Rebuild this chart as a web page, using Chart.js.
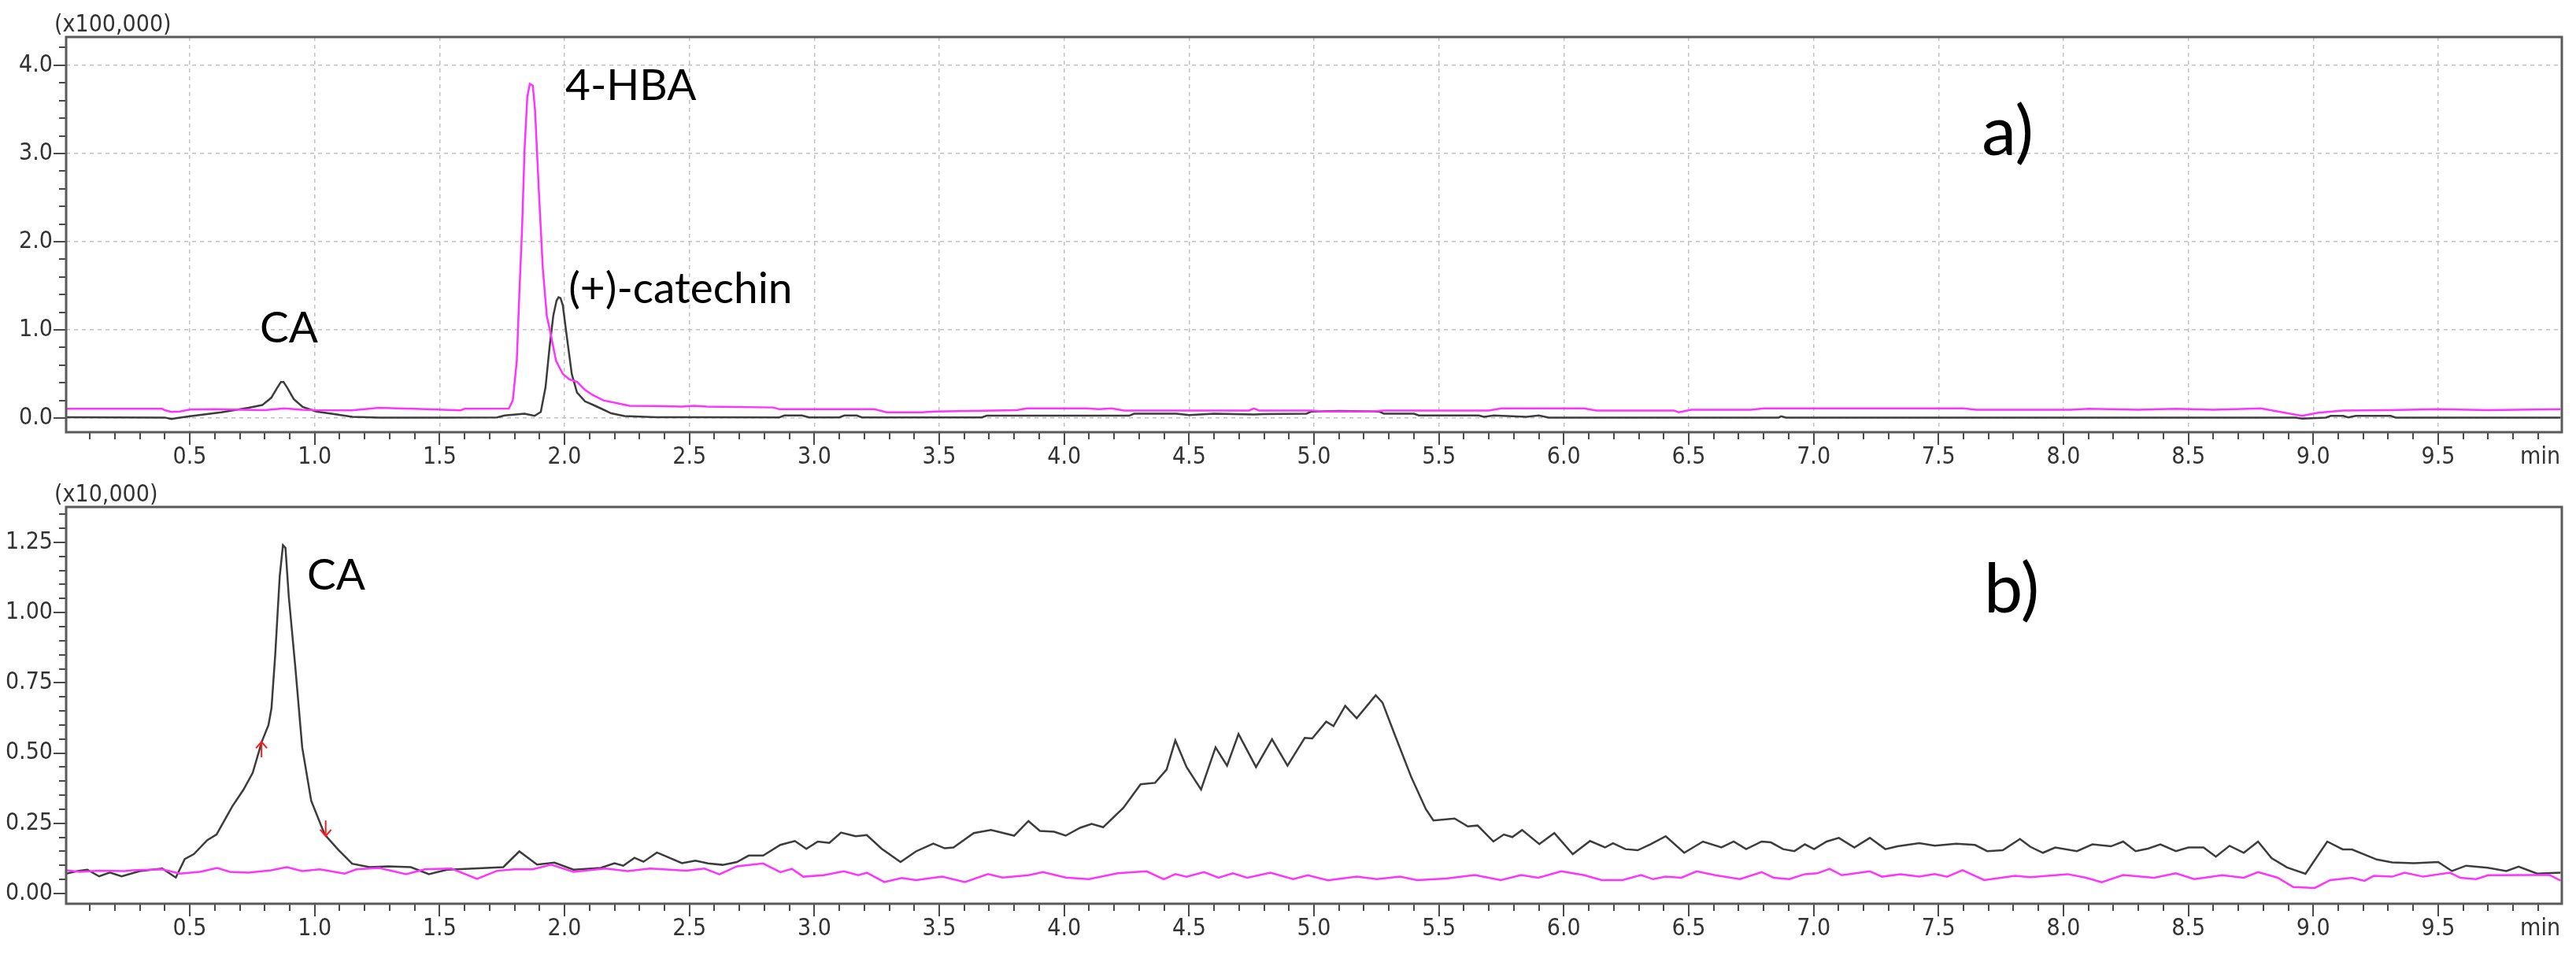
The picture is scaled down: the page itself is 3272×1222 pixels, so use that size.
<!DOCTYPE html>
<html><head><meta charset="utf-8">
<script src="https://cdn.jsdelivr.net/npm/chart.js@4/dist/chart.umd.min.js"></script>
<style>
html,body{margin:0;padding:0;background:#fff;}
#wrap{position:relative;width:3272px;height:1222px;background:#fff;}
canvas{position:absolute;left:0;}
#cA{top:0;} #cB{top:600px;}
</style></head><body>
<div id="wrap"><canvas id="cA" width="3272" height="600"></canvas><canvas id="cB" width="3272" height="622"></canvas></div>
<script>
// ---------- tick labels ----------
const xTickValues = [0.5,1.0,1.5,2.0,2.5,3.0,3.5,4.0,4.5,5.0,5.5,6.0,6.5,7.0,7.5,8.0,8.5,9.0,9.5];
const topYTickValues = [0,1,2,3,4];
const botYTickValues = [0,0.25,0.5,0.75,1.0,1.25];
const xUnitLabel = "min";
const topScaleLabel = "(x100,000)";
const botScaleLabel = "(x10,000)";

// ---------- panel a) black trace ----------
const topBlackT = [0.005,0.20,0.40,0.426,0.45,0.50,0.626,0.735,0.79,0.826,0.848,0.865,0.875,0.889,0.916,0.952,1.006,1.078,1.151,1.26,1.50,1.73,1.76,1.84,1.88,1.905,1.924,1.94,1.955,1.968,1.976,1.984,1.993,2.008,2.029,2.05,2.082,2.114,2.145,2.187,2.24,2.366,2.50,2.86,2.88,2.95,2.98,3.10,3.12,3.17,3.19,3.67,3.69,4.26,4.28,4.45,4.50,4.60,4.76,4.80,4.97,4.99,5.10,5.26,5.28,5.40,5.42,5.66,5.68,5.72,5.85,5.90,5.94,6.86,6.87,6.89,8.93,8.955,9.05,9.07,9.12,9.14,9.17,9.31,9.33,9.99];
const topBlackV = [0.01,0.008,0.006,-0.01,0.0,0.02,0.066,0.117,0.147,0.23,0.335,0.41,0.41,0.35,0.216,0.126,0.075,0.045,0.015,0.006,0.006,0.008,0.03,0.05,0.025,0.07,0.35,0.80,1.16,1.33,1.37,1.36,1.28,0.95,0.50,0.29,0.19,0.15,0.11,0.054,0.024,0.01,0.01,0.008,0.03,0.03,0.008,0.008,0.03,0.03,0.008,0.008,0.027,0.027,0.05,0.05,0.035,0.05,0.04,0.045,0.05,0.075,0.08,0.075,0.05,0.05,0.03,0.03,0.015,0.03,0.015,0.03,0.006,0.006,0.02,0.006,0.006,-0.005,0.006,0.025,0.025,0.008,0.025,0.025,0.006,0.006];

// ---------- panel a) magenta trace ----------
const topMagT = [0.005,0.39,0.40,0.426,0.46,0.50,0.60,0.715,0.80,0.878,0.95,1.005,1.149,1.20,1.258,1.33,1.40,1.583,1.60,1.777,1.793,1.809,1.819,1.830,1.840,1.851,1.861,1.873,1.882,1.897,1.913,1.929,1.945,1.966,1.993,2.019,2.05,2.082,2.114,2.156,2.208,2.26,2.366,2.47,2.52,2.57,2.836,2.86,3.24,3.29,3.43,3.48,3.81,3.85,4.09,4.14,4.19,4.24,4.74,4.76,4.78,4.99,5.04,5.23,5.28,5.70,5.75,6.08,6.13,6.44,6.46,6.51,6.75,6.80,7.60,7.65,8.03,8.10,8.30,8.45,8.60,8.74,8.79,8.955,9.02,9.12,9.30,9.50,9.70,9.99];
const topMagV = [0.105,0.105,0.09,0.07,0.075,0.096,0.10,0.095,0.09,0.11,0.095,0.09,0.087,0.10,0.117,0.11,0.105,0.087,0.105,0.107,0.20,0.65,1.40,2.14,3.04,3.64,3.79,3.77,3.49,2.59,1.70,1.16,0.95,0.65,0.50,0.44,0.41,0.32,0.26,0.20,0.17,0.14,0.137,0.13,0.14,0.13,0.12,0.10,0.10,0.065,0.065,0.075,0.09,0.11,0.11,0.10,0.11,0.086,0.086,0.11,0.086,0.086,0.075,0.075,0.086,0.086,0.11,0.11,0.086,0.086,0.065,0.095,0.095,0.11,0.11,0.095,0.095,0.105,0.095,0.105,0.095,0.105,0.11,0.025,0.06,0.085,0.09,0.10,0.09,0.10];

// ---------- panel b) black trace ----------
const botBlackT = [0.005,0.05,0.09,0.137,0.18,0.227,0.30,0.39,0.444,0.48,0.516,0.57,0.607,0.67,0.715,0.752,0.788,0.815,0.827,0.842,0.86,0.873,0.883,0.896,0.923,0.95,0.986,1.04,1.095,1.15,1.22,1.294,1.385,1.457,1.53,1.62,1.755,1.819,1.89,1.96,2.036,2.145,2.20,2.235,2.28,2.316,2.37,2.47,2.524,2.575,2.633,2.69,2.737,2.795,2.864,2.922,2.968,3.014,3.06,3.107,3.165,3.21,3.27,3.345,3.407,3.476,3.522,3.557,3.638,3.707,3.80,3.857,3.903,3.96,4.006,4.064,4.11,4.156,4.237,4.306,4.364,4.41,4.445,4.49,4.548,4.606,4.652,4.698,4.768,4.832,4.894,4.963,4.993,5.049,5.078,5.125,5.171,5.247,5.274,5.32,5.39,5.448,5.478,5.563,5.616,5.655,5.718,5.76,5.794,5.833,5.902,5.962,6.036,6.105,6.165,6.197,6.247,6.296,6.346,6.408,6.482,6.557,6.631,6.68,6.73,6.792,6.829,6.878,6.923,6.965,7.002,7.052,7.101,7.163,7.225,7.287,7.336,7.423,7.485,7.571,7.646,7.695,7.757,7.826,7.868,7.918,7.967,8.054,8.116,8.19,8.239,8.289,8.338,8.388,8.45,8.50,8.561,8.61,8.665,8.722,8.779,8.833,8.895,8.969,9.056,9.118,9.155,9.254,9.316,9.402,9.50,9.555,9.612,9.698,9.773,9.822,9.896,9.99];
const botBlackV = [0.071,0.080,0.085,0.061,0.075,0.061,0.080,0.089,0.057,0.123,0.14,0.19,0.21,0.31,0.37,0.43,0.54,0.60,0.66,0.85,1.13,1.24,1.23,1.06,0.80,0.52,0.33,0.21,0.155,0.106,0.094,0.097,0.094,0.069,0.085,0.088,0.094,0.15,0.103,0.11,0.085,0.091,0.108,0.099,0.127,0.113,0.146,0.108,0.117,0.107,0.102,0.112,0.135,0.135,0.173,0.187,0.159,0.185,0.18,0.217,0.204,0.208,0.159,0.112,0.15,0.178,0.161,0.164,0.215,0.226,0.206,0.258,0.223,0.22,0.206,0.234,0.248,0.236,0.305,0.389,0.394,0.441,0.545,0.45,0.37,0.52,0.455,0.568,0.45,0.549,0.455,0.554,0.552,0.612,0.596,0.668,0.624,0.706,0.68,0.573,0.413,0.30,0.26,0.267,0.239,0.242,0.185,0.21,0.201,0.226,0.176,0.215,0.14,0.187,0.164,0.179,0.158,0.154,0.175,0.204,0.145,0.185,0.164,0.185,0.158,0.185,0.182,0.158,0.151,0.175,0.158,0.185,0.198,0.164,0.198,0.158,0.168,0.179,0.17,0.177,0.173,0.151,0.154,0.194,0.166,0.145,0.164,0.151,0.175,0.168,0.185,0.151,0.16,0.175,0.151,0.164,0.164,0.131,0.17,0.145,0.185,0.126,0.093,0.07,0.185,0.157,0.157,0.121,0.111,0.108,0.112,0.08,0.099,0.092,0.08,0.096,0.071,0.074];

// ---------- panel b) magenta trace ----------
const botMagT = [0.005,0.06,0.137,0.24,0.27,0.39,0.46,0.54,0.61,0.66,0.735,0.825,0.888,0.95,1.02,1.12,1.167,1.258,1.366,1.44,1.547,1.65,1.73,1.80,1.873,1.946,2.036,2.163,2.253,2.343,2.487,2.56,2.62,2.69,2.795,2.864,2.91,2.956,3.037,3.118,3.176,3.21,3.28,3.35,3.407,3.511,3.603,3.695,3.753,3.857,3.915,4.006,4.099,4.214,4.33,4.399,4.445,4.49,4.56,4.618,4.675,4.733,4.825,4.917,4.975,5.056,5.171,5.252,5.344,5.413,5.528,5.644,5.748,5.829,5.898,5.99,6.082,6.152,6.234,6.309,6.358,6.408,6.47,6.532,6.606,6.705,6.792,6.841,6.903,6.965,7.015,7.064,7.113,7.225,7.274,7.348,7.423,7.485,7.534,7.596,7.683,7.806,7.868,8.017,8.091,8.153,8.239,8.363,8.45,8.524,8.635,8.722,8.779,8.858,8.92,9.006,9.068,9.155,9.205,9.242,9.316,9.366,9.44,9.547,9.589,9.652,9.70,9.872,9.946,9.99];
const botMagV = [0.083,0.077,0.081,0.08,0.083,0.086,0.071,0.077,0.091,0.077,0.074,0.083,0.094,0.08,0.086,0.071,0.086,0.091,0.069,0.086,0.089,0.052,0.081,0.086,0.086,0.103,0.077,0.089,0.08,0.089,0.081,0.089,0.068,0.097,0.107,0.076,0.088,0.06,0.065,0.079,0.065,0.074,0.041,0.055,0.048,0.06,0.041,0.069,0.057,0.065,0.076,0.057,0.051,0.072,0.079,0.051,0.069,0.06,0.076,0.056,0.072,0.056,0.074,0.051,0.065,0.047,0.06,0.051,0.06,0.048,0.053,0.066,0.048,0.066,0.056,0.079,0.065,0.048,0.048,0.066,0.051,0.06,0.056,0.079,0.065,0.051,0.076,0.056,0.051,0.069,0.072,0.088,0.065,0.079,0.06,0.069,0.06,0.069,0.06,0.083,0.048,0.063,0.058,0.069,0.056,0.04,0.066,0.056,0.072,0.051,0.065,0.056,0.076,0.056,0.023,0.02,0.048,0.056,0.045,0.063,0.06,0.074,0.06,0.074,0.056,0.051,0.065,0.066,0.066,0.046];

// ---------- annotations ----------
const topLabels = ["CA","4-HBA","(+)-catechin","a)"];
const botLabels = ["CA","b)"];
const botArrowDirs = ["up","down"];

// ---------- layout / style (not data) ----------
const TICK_FONT = "'Liberation Sans Narrow','Arial Narrow','DejaVu Sans Condensed',sans-serif";
const NOTE_FONT = "Lato, 'Open Sans', sans-serif";
const topNotePos = [{x:0.780,y:0.857,s:55},{x:2.003,y:3.606,s:55},{x:2.016,y:1.303,s:55},{x:7.673,y:2.981,s:88}];
const botNotePos = [{x:0.969,y:1.082,s:55},{x:7.682,y:1.0,s:88}];
const botArrowPos = [{x:0.787,y0:0.485,y1:0.54},{x:1.044,y0:0.26,y1:0.205}];

function pairs(T,V){return T.map((t,i)=>({x:t,y:V[i]}));}

const decor = {
  id:'decor',
  afterDraw(chart, args, o){
    const {ctx, chartArea:a} = chart;
    const xs = chart.scales.x, ys = chart.scales.y;
    ctx.save();
    // tick marks on y
    ctx.strokeStyle = '#4a4a4a'; ctx.lineWidth = 2;
    for (let k = Math.ceil(ys.min/o.yMinor - 1e-6); k*o.yMinor <= ys.max + 1e-9; k++) {
      const v = k*o.yMinor, p = Math.round(ys.getPixelForValue(v)) + 0.0;
      const major = o.yMajor.some(m => Math.abs(m - v) < 1e-6);
      const len = major ? 16 : 9;
      ctx.beginPath(); ctx.moveTo(a.left, p); ctx.lineTo(a.left - len, p); ctx.stroke();
    }
    // tick marks on x
    for (let k = Math.ceil(xs.min/0.1 - 1e-6); k*0.1 <= xs.max + 1e-9; k++) {
      const v = k*0.1, p = Math.round(xs.getPixelForValue(v));
      const major = Math.abs(v*2 - Math.round(v*2)) < 1e-6;
      const len = major ? 16 : 9;
      ctx.beginPath(); ctx.moveTo(p, a.bottom); ctx.lineTo(p, a.bottom + len); ctx.stroke();
    }
    // frame
    ctx.strokeStyle = '#5a5a5a'; ctx.lineWidth = 3;
    ctx.strokeRect(a.left, a.top, a.right - a.left, a.bottom - a.top);
    // unit label and scale factor
    ctx.fillStyle = '#333';
    ctx.font = "30px " + TICK_FONT;
    ctx.textBaseline = 'middle'; ctx.textAlign = 'right';
    ctx.fillText(xUnitLabel, a.right - 2, a.bottom + 32);
    ctx.textAlign = 'left'; ctx.textBaseline = 'alphabetic';
    ctx.fillText(o.scaleLabel, a.left - 15, a.top - 7);
    // annotations
    ctx.fillStyle = '#000';
    o.labels.forEach((t, i) => {
      const p = o.pos[i];
      ctx.font = p.s + "px " + NOTE_FONT;
      ctx.fillText(t, xs.getPixelForValue(p.x), ys.getPixelForValue(p.y));
    });
    // integration arrows
    if (o.arrows) {
      ctx.strokeStyle = '#ff1a1a'; ctx.lineWidth = 2;
      o.arrows.forEach((d, i) => {
        const p = o.arrowPos[i];
        const x = xs.getPixelForValue(p.x), y0 = ys.getPixelForValue(p.y0), y1 = ys.getPixelForValue(p.y1);
        const dir = y1 < y0 ? 1 : -1;
        ctx.beginPath(); ctx.moveTo(x, y0); ctx.lineTo(x, y1); ctx.stroke();
        ctx.beginPath(); ctx.moveTo(x - 7, y1 + dir*8); ctx.lineTo(x, y1); ctx.lineTo(x + 7, y1 + dir*8); ctx.stroke();
      });
    }
    ctx.restore();
  }
};

function makeChart(id, cfg) {
  const tickFont = {family: TICK_FONT, size: 30};
  return new Chart(document.getElementById(id), {
    type: 'line',
    data: { datasets: [
      {data: pairs(cfg.magT, cfg.magV), borderColor: '#ff33ff', borderWidth: 2.5, pointRadius: 0, tension: 0, fill: false},
      {data: pairs(cfg.blkT, cfg.blkV), borderColor: '#3c3c3c', borderWidth: 2.5, pointRadius: 0, tension: 0, fill: false}
    ]},
    options: {
      responsive: false, animation: false, devicePixelRatio: 1,
      layout: {padding: {top: cfg.padTop, right: 18, left: 0, bottom: 0}},
      plugins: {legend: {display: false}, tooltip: {enabled: false}, decor: cfg.decor},
      scales: {
        x: {
          type: 'linear', min: 0.005, max: 9.995,
          afterBuildTicks: s => { s.ticks = xTickValues.map(v => ({value: v})); },
          afterFit: s => { s.height = cfg.xH; },
          ticks: {font: tickFont, color: '#333', padding: 14, maxRotation: 0, autoSkip: false, callback: v => Number(v).toFixed(1)},
          grid: {display: cfg.grid, drawTicks: false, color: '#c2c2c2', lineWidth: 1.5},
          border: {display: false, dash: [5, 5]}
        },
        y: {
          type: 'linear', min: cfg.yMin, max: cfg.yMax,
          afterBuildTicks: s => { s.ticks = cfg.yTicks.map(v => ({value: v})); },
          afterFit: s => { s.width = 84; },
          ticks: {font: tickFont, color: '#333', padding: 17, autoSkip: false, callback: v => Number(v).toFixed(cfg.yDec)},
          grid: {display: cfg.grid, drawTicks: false, color: '#c2c2c2', lineWidth: 1.5},
          border: {display: false, dash: [5, 5]}
        }
      }
    },
    plugins: [decor]
  });
}

makeChart('cA', {
  magT: topMagT, magV: topMagV, blkT: topBlackT, blkV: topBlackV,
  padTop: 47, xH: 51, yMin: -0.16, yMax: 4.32, yTicks: topYTickValues, yDec: 1, grid: true,
  decor: {yMinor: 0.2, yMajor: topYTickValues, scaleLabel: topScaleLabel, labels: topLabels, pos: topNotePos}
});
makeChart('cB', {
  magT: botMagT, magV: botMagV, blkT: botBlackT, blkV: botBlackV,
  padTop: 44, xH: 74, yMin: -0.0364, yMax: 1.376, yTicks: botYTickValues, yDec: 2, grid: false,
  decor: {yMinor: 0.05, yMajor: botYTickValues, scaleLabel: botScaleLabel, labels: botLabels, pos: botNotePos, arrows: botArrowDirs, arrowPos: botArrowPos}
});
</script>
</body></html>
